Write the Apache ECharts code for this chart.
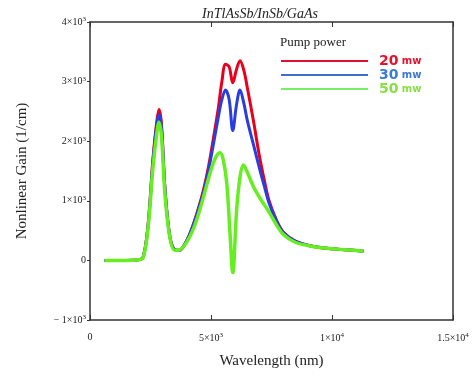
<!DOCTYPE html>
<html>
<head>
<meta charset="utf-8">
<script src="https://cdn.jsdelivr.net/npm/echarts@6/dist/echarts.min.js"></script>
<style>
  html, body { margin: 0; padding: 0; background: #fff; }
  #chart { width: 474px; height: 376px; }
</style>
</head>
<body>
<div id="chart"></div>
<script>
// wavelengths (nm) and gain values (1/cm)
const wlRed = [600, 1000, 1500, 2000, 2200, 2400, 2600, 2750, 2850, 2950, 3100, 3300, 3500, 3700, 3900, 4100, 4300, 4500, 4700, 4900, 5100, 5300, 5450, 5600, 5750, 5900, 6050, 6200, 6350, 6500, 6750, 7000, 7200, 7400, 7700, 8000, 8500, 9000, 9500, 10000, 10500, 11000, 11300];
const gain20 = [0, 0, 0, 10, 60, 600, 1700, 2300, 2530, 2300, 1200, 400, 180, 170, 260, 420, 640, 900, 1200, 1580, 2050, 2550, 3000, 3290, 3250, 2980, 3200, 3350, 3200, 2900, 2350, 1750, 1350, 1000, 680, 470, 320, 255, 215, 195, 180, 165, 155];
const gain30 = [0, 0, 0, 10, 60, 580, 1650, 2250, 2450, 2250, 1180, 400, 180, 170, 260, 420, 630, 880, 1160, 1520, 1950, 2400, 2700, 2860, 2700, 2180, 2600, 2860, 2650, 2350, 1950, 1550, 1250, 960, 670, 465, 320, 255, 215, 195, 180, 165, 155];
const wlGreen = [600, 1000, 1500, 2000, 2200, 2400, 2600, 2750, 2850, 2950, 3100, 3300, 3500, 3700, 3900, 4100, 4300, 4500, 4700, 4900, 5100, 5250, 5370, 5500, 5650, 5785, 5900, 6060, 6200, 6340, 6500, 6750, 7000, 7400, 7700, 8000, 8500, 9000, 9500, 10000, 10500, 11000, 11300];
const gain50 = [0, 0, 0, 10, 50, 550, 1550, 2100, 2320, 2100, 1100, 380, 170, 175, 250, 380, 560, 800, 1080, 1380, 1640, 1770, 1805, 1700, 1300, 460, -205, 850, 1400, 1600, 1480, 1240, 1060, 810, 600, 430, 300, 250, 215, 195, 180, 165, 155];

const seriesNames = ['20', '30', '50'];

const pairs = (xs, ys) => xs.map((x, i) => [x, ys[i]]);

function yLabel(v) {
  if (v === 0) return '0';
  const n = Math.abs(v) / 1000;
  return (v < 0 ? '\u2212 ' : '') + n + '\u00d710{sup|3}';
}
function xLabel(v) {
  if (v === 0) return '0';
  if (v === 5000) return '5\u00d710{sup|3}';
  if (v === 10000) return '1\u00d710{sup|4}';
  return '1.5\u00d710{sup|4}';
}

const serif = 'Liberation Serif';
const axisCol = '#333';
const richSup = { sup: { fontSize: 7, verticalAlign: 'top', padding: [0, 0, 5, 0], fontFamily: serif, color: '#222' } };

const chart = echarts.init(document.getElementById('chart'));
chart.setOption({
  animation: false,
  title: {
    text: 'InTlAsSb/InSb/GaAs',
    left: 255,
    textAlign: 'center',
    top: 2,
    textStyle: { fontFamily: serif, fontStyle: 'italic', fontWeight: 'normal', fontSize: 14, color: '#222' },
  },
  grid: { left: 90, right: 21, top: 22, bottom: 56 },
  graphic: [
    {
      type: 'text',
      left: 280,
      top: 36,
      style: { text: 'Pump power', fontFamily: serif, fontSize: 13, fill: '#222' },
    },
  ],
  legend: {
    show: true,
    orient: 'vertical',
    left: 275,
    top: 49,
    itemWidth: 87,
    itemHeight: 12,
    itemGap: 0,
    lineStyle: { width: 2 },
    itemStyle: { opacity: 0 },
    data: [
      { name: '20', lineStyle: { color: '#e01030' }, textStyle: { color: '#e8102a' } },
      { name: '30', lineStyle: { color: '#3a70d0' }, textStyle: { color: '#3a7bd5' } },
      { name: '50', lineStyle: { color: '#77ee66' }, textStyle: { color: '#88e044' } },
    ],
    formatter: (n) => '{big|' + n + '} {small|mw}',
    textStyle: {
      rich: {
        big: { fontFamily: 'DejaVu Sans', fontWeight: 'bold', fontSize: 14, padding: [0, 0, 0, 6] },
        small: { fontFamily: 'DejaVu Sans', fontWeight: 'bold', fontSize: 10 },
      },
    },
    selectedMode: false,
  },
  xAxis: [
    {
      type: 'value',
      min: 0,
      max: 15000,
      interval: 5000,
      name: 'Wavelength (nm)',
      nameLocation: 'middle',
      nameGap: 34,
      nameTextStyle: { fontFamily: serif, fontSize: 15, color: '#222' },
      axisLine: { onZero: false, lineStyle: { color: axisCol, width: 1.5 } },
      axisTick: { inside: true, length: 5, lineStyle: { color: axisCol } },
      splitLine: { show: false },
      axisLabel: {
        margin: 12,
        formatter: xLabel,
        fontFamily: serif,
        fontSize: 10,
        color: '#222',
        rich: richSup,
      },
    },
    {
      type: 'value',
      position: 'top',
      min: 0,
      max: 15000,
      interval: 5000,
      axisLine: { show: true, onZero: false, lineStyle: { color: axisCol, width: 1.5 } },
      axisTick: { show: true, inside: true, length: 5, lineStyle: { color: axisCol } },
      axisLabel: { show: false },
      splitLine: { show: false },
    },
  ],
  yAxis: [
    {
      type: 'value',
      min: -1000,
      max: 4000,
      interval: 1000,
      name: 'Nonlinear Gain (1/cm)',
      nameLocation: 'middle',
      nameGap: 60,
      nameTextStyle: { fontFamily: serif, fontSize: 15, color: '#222' },
      axisLine: { show: true, onZero: false, lineStyle: { color: axisCol, width: 1.5 } },
      axisTick: { length: 3, lineStyle: { color: axisCol } },
      splitLine: { show: false },
      axisLabel: {
        margin: 4,
        formatter: yLabel,
        fontFamily: serif,
        fontSize: 10,
        color: '#222',
        rich: richSup,
      },
    },
    {
      type: 'value',
      position: 'right',
      min: -1000,
      max: 4000,
      interval: 1000,
      axisLine: { show: true, onZero: false, lineStyle: { color: axisCol, width: 1.5 } },
      axisTick: { show: false },
      axisLabel: { show: false },
      splitLine: { show: false },
    },
  ],
  series: [
    {
      name: seriesNames[0],
      type: 'line',
      data: pairs(wlRed, gain20),
      smooth: 0.35,
      symbol: 'none',
      color: '#e8001c',
      lineStyle: { width: 3, color: '#e8001c' },
      z: 2,
    },
    {
      name: seriesNames[1],
      type: 'line',
      data: pairs(wlRed, gain30),
      smooth: 0.35,
      symbol: 'none',
      color: '#2a3ee0',
      lineStyle: { width: 3, color: '#2a3ee0' },
      z: 3,
    },
    {
      name: seriesNames[2],
      type: 'line',
      data: pairs(wlGreen, gain50),
      smooth: 0.35,
      symbol: 'none',
      color: '#66ee22',
      lineStyle: { width: 3.5, color: '#66ee22' },
      z: 4,
    },
  ],
});
</script>
</body>
</html>
